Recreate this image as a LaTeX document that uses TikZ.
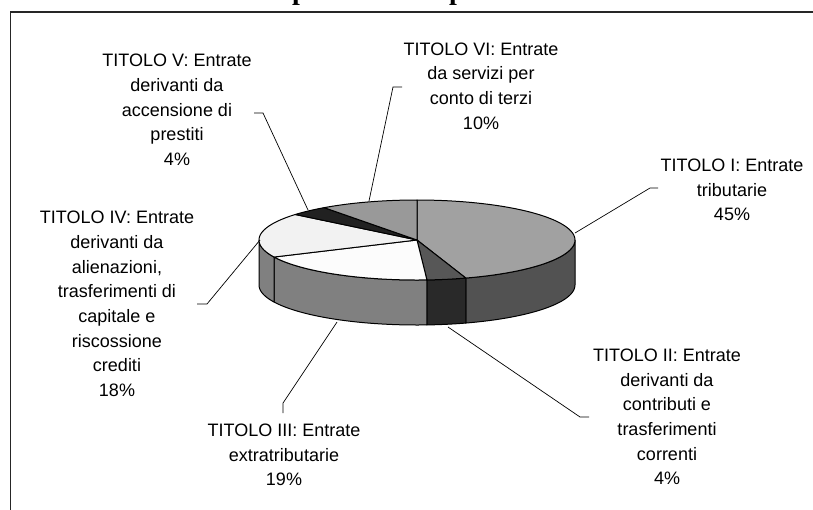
\documentclass[tikz,border=0pt]{standalone}
\usepackage{fontspec}
\setmainfont{Liberation Sans}
\newfontfamily\titlefont{Liberation Serif}
\newcommand\pieCX{417}
\newcommand\pieCY{240}
\newcommand\pieRX{158}
\newcommand\pieRY{40}
\newcommand\pieDep{45}
\newcommand\pieTop[3]{\filldraw[pieedge, fill=#3] (\pieCX,\pieCY) -- plot[domain=#1:#2, samples=60] ({\pieCX+\pieRX*sin(\x)},{\pieCY-\pieRY*cos(\x)}) -- cycle;}
\newcommand\pieSide[3]{\filldraw[pieedge, fill=#3] plot[domain=#1:#2, samples=40] ({\pieCX+\pieRX*sin(\x)},{\pieCY-\pieRY*cos(\x)}) -- plot[domain=#2:#1, samples=40] ({\pieCX+\pieRX*sin(\x)},{\pieCY+\pieDep-\pieRY*cos(\x)}) -- cycle;}
\definecolor{topI}{gray}{0.63}
\definecolor{sideI}{gray}{0.32}
\definecolor{topII}{gray}{0.34}
\definecolor{sideII}{gray}{0.16}
\definecolor{topIII}{gray}{0.99}
\definecolor{sideIII}{gray}{0.50}
\definecolor{topIV}{gray}{0.95}
\definecolor{sideIV}{gray}{0.50}
\definecolor{topV}{gray}{0.13}
\definecolor{topVI}{gray}{0.60}
\begin{document}
\begin{tikzpicture}[x=1pt,y=-1pt,
  lbl/.style={align=center, font=\fontsize{18}{24.7}\selectfont, inner sep=0pt},
  leader/.style={draw=black, line width=0.7pt},
  pieedge/.style={draw=black, line width=1pt, line join=round},
  ttl/.style={font=\titlefont\bfseries\fontsize{28}{30}\selectfont, inner sep=0pt, anchor=base west}]
\useasboundingbox (0,0) rectangle (813,509);
\clip (0,0) rectangle (813,509);
\fill[white] (0,0) rectangle (813,509);
% cut-off title
\node[ttl] (t1) at (292,-1) {p};
\node[ttl] (t2) at (449,-1) {p};
% frame
\draw[line width=1.5pt, draw=black!85] (10.5,520) -- (10.5,12) -- (820,12);
% pie sides
\pieSide{90}{162}{sideI}
\pieSide{162}{176.4}{sideII}
\pieSide{176.4}{244.8}{sideIII}
\pieSide{244.8}{270}{sideIV}
% pie tops
\pieTop{0}{162}{topI}
\pieTop{162}{176.4}{topII}
\pieTop{176.4}{244.8}{topIII}
\pieTop{244.8}{309.6}{topIV}
\pieTop{309.6}{324}{topV}
\pieTop{324}{360}{topVI}
% labels
\node[lbl] (lI) at (732,190) {TITOLO I: Entrate\\tributarie\\45\%};
\node[lbl] (lII) at (667,417) {TITOLO II: Entrate\\derivanti da\\contributi e\\trasferimenti\\correnti\\4\%};
\node[lbl] (lIII) at (284,455) {TITOLO III: Entrate\\extratributarie\\19\%};
\node[lbl] (lIV) at (117,304) {TITOLO IV: Entrate\\derivanti da\\alienazioni,\\trasferimenti di\\capitale e\\riscossione\\crediti\\18\%};
\node[lbl] (lV) at (177,110) {TITOLO V: Entrate\\derivanti da\\accensione di\\prestiti\\4\%};
\node[lbl] (lVI) at (481,86) {TITOLO VI: Entrate\\da servizi per\\conto di terzi\\10\%};
% leader points
\coordinate (sI) at (575,233);  \coordinate (kI) at (650,188);  \coordinate (eI) at (658,188);
\coordinate (sII) at (448,327); \coordinate (kII) at (580,417); \coordinate (eII) at (589,417);
\coordinate (sIII) at (337,322); \coordinate (kIII) at (283,403); \coordinate (eIII) at (283,413);
\coordinate (sIV) at (260,240); \coordinate (kIV) at (207,304); \coordinate (eIV) at (197,304);
\coordinate (sV) at (308,210);  \coordinate (kV) at (263,113);  \coordinate (eV) at (254,113);
\coordinate (sVI) at (369,201); \coordinate (kVI) at (393,87);  \coordinate (eVI) at (402,87);
\draw[leader] (sI) -- (kI) -- (eI);
\draw[leader] (sII) -- (kII) -- (eII);
\draw[leader] (sIII) -- (kIII) -- (eIII);
\draw[leader] (sIV) -- (kIV) -- (eIV);
\draw[leader] (sV) -- (kV) -- (eV);
\draw[leader] (sVI) -- (kVI) -- (eVI);
\end{tikzpicture}
\end{document}
